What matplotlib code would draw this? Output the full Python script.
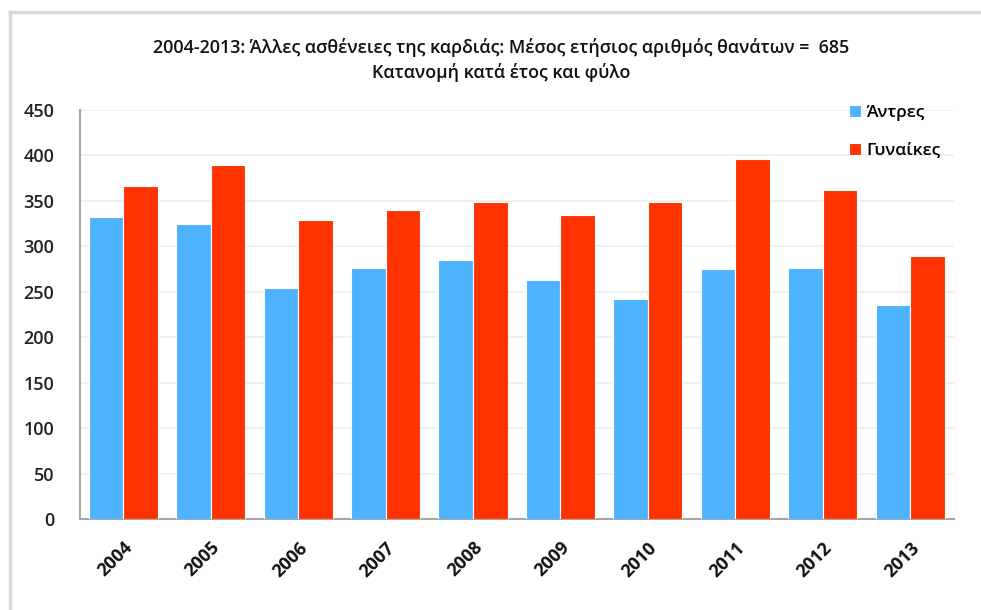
import matplotlib.pyplot as plt
import numpy as np
from matplotlib.lines import Line2D

# Datos
years = ['2004', '2005', '2006', '2007', '2008', '2009', '2010', '2011', '2012', '2013']
men = [332, 325, 254, 276, 285, 263, 242, 275, 276, 236]
women = [366, 390, 329, 340, 349, 335, 349, 396, 362, 289]
y_ticks = [0, 50, 100, 150, 200, 250, 300, 350, 400, 450]
title = ('2004-2013: Άλλες ασθένειες της καρδιάς: Μέσος ετήσιος αριθμός θανάτων =  685\n'
         'Κατανομή κατά έτος και φύλο')
labels = ['Άντρες', 'Γυναίκες']

plt.rcParams['font.family'] = ['Open Sans', 'DejaVu Sans']

W, H = 981, 610
fig = plt.figure(figsize=(W / 100, H / 100), dpi=100)
fig.patch.set_facecolor('white')

# marco exterior gris
fig.add_artist(Line2D([9.5 / W, 9.5 / W], [0, 1 - 12 / H], color='#d9d9d9', lw=2.5,
                      transform=fig.transFigure))
fig.add_artist(Line2D([9.5 / W, 1], [1 - 12 / H, 1 - 12 / H], color='#d9d9d9', lw=2.5,
                      transform=fig.transFigure))

ax = fig.add_axes([79.5 / W, 1 - 519 / H, (954 - 79.5) / W, (519 - 110) / H])

x = np.arange(len(years))
w = 0.395
ax.bar(x - w / 2, men, w, color='#4db3ff', edgecolor='white', linewidth=0.8, label=labels[0], zorder=3)
ax.bar(x + w / 2, women, w, color='#ff3300', edgecolor='white', linewidth=0.8, label=labels[1], zorder=3)

ax.set_xlim(-0.5, len(years) - 0.5)
ax.set_ylim(0, 450)
ax.set_yticks(y_ticks)
ax.set_yticklabels([str(t) for t in y_ticks], fontsize=13, fontweight='semibold', color='#222222')
ax.set_xticks(x)
ax.set_xticklabels(years, rotation=45, ha='right', rotation_mode='anchor',
                   fontsize=13, fontweight='bold', color='#111111')
ax.tick_params(axis='both', length=0)
ax.tick_params(axis='y', pad=18)
ax.tick_params(axis='x', pad=14)

ax.grid(axis='y', color='#efefef', lw=1.2, zorder=0)
for s in ['top', 'right']:
    ax.spines[s].set_visible(False)
ax.spines['left'].set_color('#a6a6a6')
ax.spines['bottom'].set_color('#a6a6a6')
ax.spines['left'].set_linewidth(1.5)
ax.spines['bottom'].set_linewidth(1.5)

fig.text(501 / W, 1 - 60 / H, title, ha='center', va='center', fontsize=12.9,
         fontweight='semibold', linespacing=1.45, color='#111111')

ax.legend(loc='upper left', bbox_to_anchor=(840 / W, 1 - 96 / H), bbox_transform=fig.transFigure,
          frameon=False, prop={'size': 12.5, 'weight': 'semibold'}, handlelength=0.7,
          handleheight=0.7, handletextpad=0.3, labelspacing=1.25, borderpad=0)

plt.savefig('out.png', dpi=100)
